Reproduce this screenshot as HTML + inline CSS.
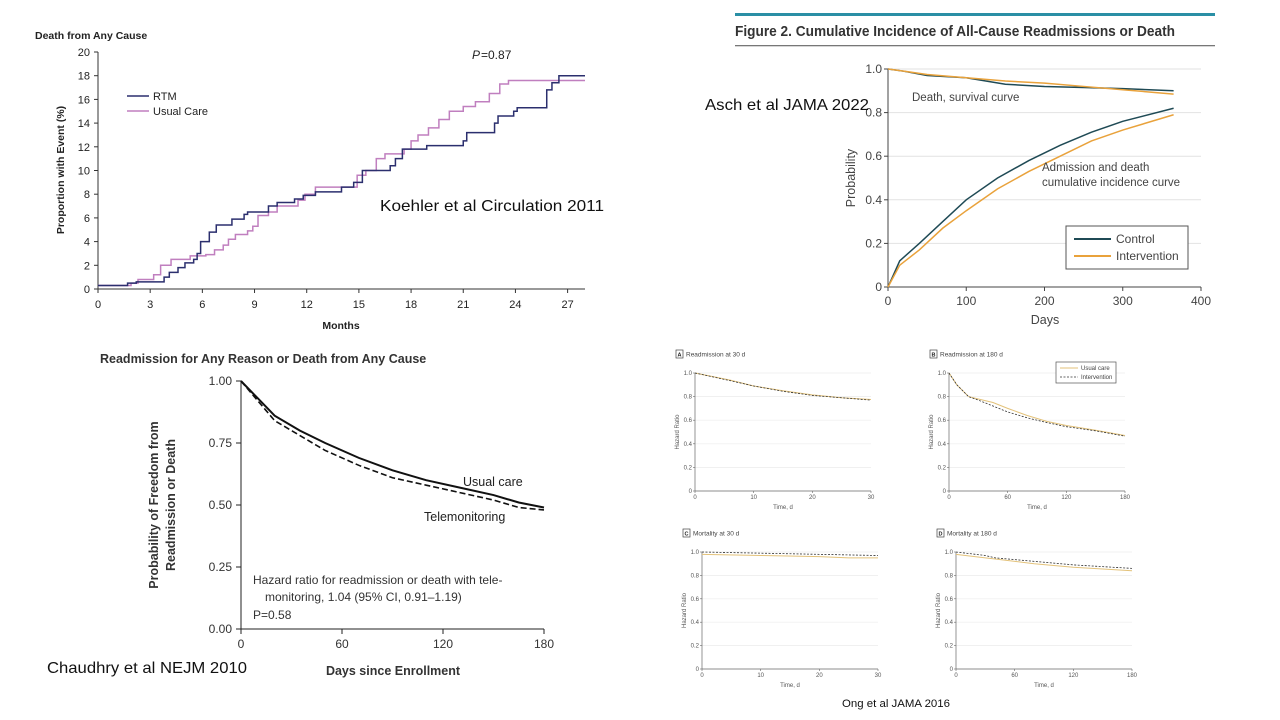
<!DOCTYPE html>
<html><head><meta charset="utf-8"><style>
body{margin:0;background:#fff;width:1280px;height:720px;overflow:hidden;font-family:"Liberation Sans",sans-serif}
svg{position:absolute;left:0;top:0}
</style></head><body>
<svg id="s" width="1280" height="720" xmlns="http://www.w3.org/2000/svg"></svg>
<script>
// ---- Koehler (months, %) step data ----
const kRtmX=[0,0.8,1.7,2.2,3.6,3.8,4.1,4.6,5,5.5,5.7,5.9,6.4,6.8,7.7,8.4,8.6,9.8,10.3,11.3,11.8,12.5,14,14.7,15.2,16.8,17.1,17.5,18.9,21,21.2,22.8,23,23.9,24.1,25.8,26.1,26.5,28];
const kRtmY=[0.3,0.3,0.5,0.6,0.6,1,1.4,1.8,2.2,2.5,3,4,4.8,5.4,5.9,6.3,6.5,7,7.3,7.6,7.9,8.2,8.6,9,10,10.4,11,11.8,12.1,12.5,13.2,14,14.6,15,15.3,16.8,17.4,18,18];
const kUcX=[0,1.9,2.3,3.2,3.6,4.2,5.3,6.2,6.7,7.2,7.5,7.9,8.6,8.9,9.2,9.8,10.3,11.5,11.9,12.5,14,14.9,15.4,16,16.5,17.6,18,18.4,19,19.6,20.2,21,21.7,22.5,23.1,23.6,28];
const kUcY=[0.3,0.5,0.8,1.2,2,2.5,2.8,2.9,3.3,3.7,4.2,4.6,4.9,5.3,6.2,6.5,7,7.5,8,8.6,8.6,9.6,10,11,11.4,11.8,12.5,13,13.6,14.3,15,15.4,15.8,16.5,17.3,17.6,17.6];
const kXTicks=[0,3,6,9,12,15,18,21,24,27];
const kYTicks=[0,2,4,6,8,10,12,14,16,18,20];
// ---- Asch (days, probability) ----
const aX=[0,15,40,70,100,140,180,220,260,300,365];
const aCtrlInc=[0,0.12,0.2,0.3,0.4,0.5,0.58,0.65,0.71,0.76,0.82];
const aIntInc=[0,0.1,0.17,0.27,0.35,0.45,0.53,0.6,0.67,0.72,0.79];
const aDX=[0,20,50,100,150,200,250,300,365];
const aCtrlDeath=[1,0.99,0.97,0.96,0.93,0.92,0.915,0.91,0.9];
const aIntDeath=[1,0.99,0.975,0.96,0.945,0.935,0.92,0.905,0.885];
const aXTicks=[0,100,200,300,400];
const aYTicks=[0,0.2,0.4,0.6,0.8,1.0];
// ---- Chaudhry ----
const cX=[0,10,20,35,50,70,90,110,130,150,165,180];
const cUsual=[1,0.93,0.86,0.8,0.75,0.69,0.64,0.6,0.57,0.54,0.51,0.49];
const cTele=[1,0.92,0.84,0.78,0.72,0.66,0.61,0.58,0.55,0.52,0.49,0.48];
const cXTicks=[0,60,120,180];
const cYTicks=[0,0.25,0.5,0.75,1.0];
// ---- Ong panels ----
const oAX=[0,6,10,15,20,25,30];
const oAUsual=[1,0.94,0.89,0.85,0.815,0.79,0.775];
const oAInt=[1,0.935,0.89,0.845,0.81,0.79,0.77];
const oBX=[0,8,20,30,45,60,80,100,120,150,180];
const oBUsual=[1,0.9,0.8,0.78,0.75,0.7,0.64,0.59,0.555,0.515,0.47];
const oBInt=[1,0.9,0.8,0.77,0.72,0.67,0.62,0.58,0.545,0.51,0.465];
const oCX=[0,10,20,25,30];
const oCUsual=[0.98,0.97,0.96,0.95,0.95];
const oCInt=[1,0.99,0.98,0.975,0.97];
const oDX=[0,30,40,80,120,180];
const oDUsual=[0.98,0.95,0.94,0.9,0.87,0.84];
const oDInt=[1,0.97,0.95,0.92,0.89,0.86];
const o30Ticks=[0,10,20,30];
const o180Ticks=[0,60,120,180];
const oYTicks=[0,0.2,0.4,0.6,0.8,1.0];

const S=document.getElementById('s');
function el(t,a,txt){const e=document.createElementNS('http://www.w3.org/2000/svg',t);for(const k in a)e.setAttribute(k,a[k]);if(txt!==undefined)e.textContent=txt;S.appendChild(e);return e;}
function txt(x,y,s,o){o=o||{};const e=el('text',{x:x,y:y,'font-size':o.fs||12,'font-weight':o.fw||'normal','text-anchor':o.anchor||'start',fill:o.fill||'#222','font-family':o.ff||'"Liberation Sans",sans-serif'},s);if(o.rot)e.setAttribute('transform','rotate(-90 '+x+' '+y+')');if(o.fst)e.setAttribute('font-style',o.fst);if(o.tl){e.setAttribute('textLength',o.tl);e.setAttribute('lengthAdjust','spacingAndGlyphs');}return e;}
function axis(x0,x1,y0,y1,xmin,xmax,ymin,ymax){return{sx:v=>x0+(v-xmin)/(xmax-xmin)*(x1-x0),sy:v=>y0-(v-ymin)/(ymax-ymin)*(y0-y1)};}
function line(ax,xs,ys,o){let d='';for(let i=0;i<xs.length;i++){const X=ax.sx(xs[i]),Y=ax.sy(ys[i]);if(i==0)d='M'+X+' '+Y;else if(o.step)d+=' H'+X+' V'+Y;else d+=' L'+X+' '+Y;}
const p=el('path',{d:d,fill:'none',stroke:o.c,'stroke-width':o.w||1.5});if(o.dash)p.setAttribute('stroke-dasharray',o.dash);return p;}

// ===== Koehler =====
(function(){const ax=axis(98,585,289,52,0,28,0,20);
txt(35,39,'Death from Any Cause',{fs:10.5,fw:'bold',name:'koehler-title'});
el('line',{x1:98,y1:52,x2:98,y2:289,stroke:'#333'});el('line',{x1:98,y1:289,x2:585,y2:289,stroke:'#333'});
kYTicks.forEach(v=>{el('line',{x1:94,x2:98,y1:ax.sy(v),y2:ax.sy(v),stroke:'#333'});txt(90,ax.sy(v)+4,String(v),{fs:11,anchor:'end',name:'koehler-y-tick'});});
kXTicks.forEach(v=>{el('line',{x1:ax.sx(v),x2:ax.sx(v),y1:289,y2:293,stroke:'#333'});txt(ax.sx(v),308,String(v),{fs:11,anchor:'middle',name:'koehler-x-tick'});});
txt(341,329,'Months',{fs:10.5,fw:'bold',anchor:'middle',name:'koehler-x-title'});
txt(64,170,'Proportion with Event (%)',{fs:10.5,fw:'bold',anchor:'middle',rot:1,name:'koehler-y-title'});
line(ax,kUcX,kUcY,{c:'#c07fbf',step:1,name:'usual-care-line'});
line(ax,kRtmX,kRtmY,{c:'#2b2f6e',step:1,name:'rtm-line'});
el('line',{x1:127,x2:149,y1:96,y2:96,stroke:'#2b2f6e','stroke-width':1.5});txt(153,100,'RTM',{fs:11,name:'legend-rtm'});
el('line',{x1:127,x2:149,y1:111,y2:111,stroke:'#c07fbf','stroke-width':1.5});txt(153,115,'Usual Care',{fs:11,name:'legend-usual-care'});
txt(472,59,'P',{fs:12,fst:'italic',name:'p-label'});txt(481,59,'=0.87',{fs:12,name:'p-value'});
txt(380,211,'Koehler et al Circulation 2011',{fs:16,tl:224,fill:'#111',name:'koehler-citation'});})();

// ===== Asch =====
(function(){const ax=axis(888,1201,287,69,0,400,0,1);
el('rect',{x:735,y:13,width:480,height:3,fill:'#2a8fa5'});
txt(735,36,'Figure 2. Cumulative Incidence of All-Cause Readmissions or Death',{fs:14.5,fw:'bold',fill:'#333',tl:440,name:'asch-title'});
el('rect',{x:735,y:45,width:480,height:1.3,fill:'#777'});
aYTicks.forEach(v=>{if(v>0)el('line',{x1:888,x2:1201,y1:ax.sy(v),y2:ax.sy(v),stroke:'#e2e2e2'});el('line',{x1:884,x2:888,y1:ax.sy(v),y2:ax.sy(v),stroke:'#444'});txt(882,ax.sy(v)+4,v==0?'0':v.toFixed(1),{fs:12,anchor:'end',fill:'#444',name:'asch-y-tick'});});
el('line',{x1:888,y1:69,x2:888,y2:287,stroke:'#444'});el('line',{x1:888,y1:287,x2:1201,y2:287,stroke:'#444'});
aXTicks.forEach(v=>{el('line',{x1:ax.sx(v),x2:ax.sx(v),y1:287,y2:291,stroke:'#444'});txt(ax.sx(v),305,String(v),{fs:12,anchor:'middle',fill:'#444',name:'asch-x-tick'});});
txt(1045,324,'Days',{fs:12.5,anchor:'middle',fill:'#444',name:'asch-x-title'});
txt(855,178,'Probability',{fs:12.5,anchor:'middle',rot:1,fill:'#444',name:'asch-y-title'});
line(ax,aDX,aCtrlDeath,{c:'#1f4a55',name:'control-death-line'});
line(ax,aDX,aIntDeath,{c:'#e9a23b',name:'intervention-death-line'});
line(ax,aX,aCtrlInc,{c:'#1f4a55',name:'control-incidence-line'});
line(ax,aX,aIntInc,{c:'#e9a23b',name:'intervention-incidence-line'});
txt(912,101,'Death, survival curve',{fs:11.5,fill:'#444',name:'death-curve-label'});
txt(1042,171,'Admission and death',{fs:11.5,fill:'#444',name:'incidence-label-1'});
txt(1042,186,'cumulative incidence curve',{fs:11.5,fill:'#444',name:'incidence-label-2'});
el('rect',{x:1066,y:226,width:122,height:43,fill:'#fff',stroke:'#555'});
el('line',{x1:1074,x2:1111,y1:239,y2:239,stroke:'#1f4a55','stroke-width':2});txt(1116,243,'Control',{fs:12,fill:'#444',name:'legend-control'});
el('line',{x1:1074,x2:1111,y1:256,y2:256,stroke:'#e9a23b','stroke-width':2});txt(1116,260,'Intervention',{fs:12,fill:'#444',name:'legend-intervention'});
txt(705,110,'Asch et al JAMA 2022',{fs:16,tl:164,fill:'#111',name:'asch-citation'});})();

// ===== Chaudhry =====
(function(){const ax=axis(241,544,629,381,0,180,0,1);
txt(100,363,'Readmission for Any Reason or Death from Any Cause',{fs:12.5,fw:'bold',fill:'#333',name:'chaudhry-title'});
el('line',{x1:241,y1:381,x2:241,y2:629,stroke:'#222'});el('line',{x1:241,y1:629,x2:544,y2:629,stroke:'#222'});
cYTicks.forEach(v=>{el('line',{x1:236,x2:241,y1:ax.sy(v),y2:ax.sy(v),stroke:'#222'});txt(232,ax.sy(v)+4,v.toFixed(2),{fs:12,anchor:'end',fill:'#333',name:'chaudhry-y-tick'});});
cXTicks.forEach(v=>{el('line',{x1:ax.sx(v),x2:ax.sx(v),y1:629,y2:634,stroke:'#222'});txt(ax.sx(v),648,String(v),{fs:12,anchor:'middle',fill:'#333',name:'chaudhry-x-tick'});});
txt(393,675,'Days since Enrollment',{fs:12.5,fw:'bold',anchor:'middle',fill:'#333',name:'chaudhry-x-title'});
txt(158,505,'Probability of Freedom from',{fs:12.5,fw:'bold',anchor:'middle',rot:1,fill:'#333',name:'chaudhry-y-title-1'});
txt(175,505,'Readmission or Death',{fs:12.5,fw:'bold',anchor:'middle',rot:1,fill:'#333',name:'chaudhry-y-title-2'});
line(ax,cX,cUsual,{c:'#111',w:2,name:'usual-care-line'});
line(ax,cX,cTele,{c:'#111',w:1.6,dash:'6 3',name:'telemonitoring-line'});
txt(463,486,'Usual care',{fs:12.5,fill:'#222',name:'usual-care-label'});
txt(424,521,'Telemonitoring',{fs:12.5,fill:'#222',name:'telemonitoring-label'});
txt(253,584,'Hazard ratio for readmission or death with tele-',{fs:12,fill:'#333',name:'hazard-text-1'});
txt(265,601,'monitoring, 1.04 (95% CI, 0.91–1.19)',{fs:12,fill:'#333',name:'hazard-text-2'});
txt(253,619,'P=0.58',{fs:12,fill:'#333',name:'p-value'});
txt(47,673,'Chaudhry et al NEJM 2010',{fs:16,tl:200,fill:'#111',name:'chaudhry-citation'});})();

// ===== Ong panels =====
function ong(x0,y0,y1,xmax,ticks,xs,us,ins,letter,title,leg){const x1=x0+176;const ax=axis(x0,x1,y1,y0,0,xmax,0,1);
el('rect',{x:x0-19,y:y0-23,width:7,height:8,fill:'#fff',stroke:'#444','stroke-width':0.7});
txt(x0-15.5,y0-16.5,letter,{fs:5.5,fw:'bold',anchor:'middle',name:'panel-letter'});
txt(x0-9,y0-16.5,title,{fs:6.5,fill:'#444',name:'panel-title'});
oYTicks.forEach(v=>{if(v>0)el('line',{x1:x0,x2:x1,y1:ax.sy(v),y2:ax.sy(v),stroke:'#ececec','stroke-width':0.7});el('line',{x1:x0-2,x2:x0,y1:ax.sy(v),y2:ax.sy(v),stroke:'#666','stroke-width':0.6});txt(x0-3,ax.sy(v)+2,v==0?'0':v.toFixed(1),{fs:6,anchor:'end',fill:'#555',name:'ong-y-tick'});});
el('line',{x1:x0,y1:y0,x2:x0,y2:y1,stroke:'#666','stroke-width':0.7});el('line',{x1:x0,y1:y1,x2:x1,y2:y1,stroke:'#666','stroke-width':0.7});
ticks.forEach(v=>{el('line',{x1:ax.sx(v),x2:ax.sx(v),y1:y1,y2:y1+2,stroke:'#666','stroke-width':0.6});txt(ax.sx(v),y1+8,String(v),{fs:6,anchor:'middle',fill:'#555',name:'ong-x-tick'});});
txt((x0+x1)/2,y1+18,'Time, d',{fs:6,anchor:'middle',fill:'#555',name:'ong-x-title'});
txt(x0-16,(y0+y1)/2,'Hazard Ratio',{fs:6,anchor:'middle',rot:1,fill:'#555',name:'ong-y-title'});
line(ax,xs,us,{c:'#e3c27a',w:1,name:'usual-care-line'});
line(ax,xs,ins,{c:'#333',w:0.8,dash:'2 1.5',name:'intervention-line'});
if(leg){el('rect',{x:1056,y:362,width:60,height:21,fill:'#fff',stroke:'#555','stroke-width':0.7});
el('line',{x1:1060,x2:1078,y1:368,y2:368,stroke:'#e3c27a','stroke-width':1});txt(1081,370,'Usual care',{fs:6,fill:'#444',name:'legend-usual-care'});
el('line',{x1:1060,x2:1078,y1:377,y2:377,stroke:'#333','stroke-width':0.8,'stroke-dasharray':'2 1.5'});txt(1081,379,'Intervention',{fs:6,fill:'#444',name:'legend-intervention'});}}
ong(695,373,491,30,o30Ticks,oAX,oAUsual,oAInt,'A','Readmission at 30 d',0);
ong(949,373,491,180,o180Ticks,oBX,oBUsual,oBInt,'B','Readmission at 180 d',1);
ong(702,552,669,30,o30Ticks,oCX,oCUsual,oCInt,'C','Mortality at 30 d',0);
ong(956,552,669,180,o180Ticks,oDX,oDUsual,oDInt,'D','Mortality at 180 d',0);
txt(896,707,'Ong et al JAMA 2016',{fs:11,anchor:'middle',tl:108,fill:'#111',name:'ong-citation'});
</script>
</body></html>
